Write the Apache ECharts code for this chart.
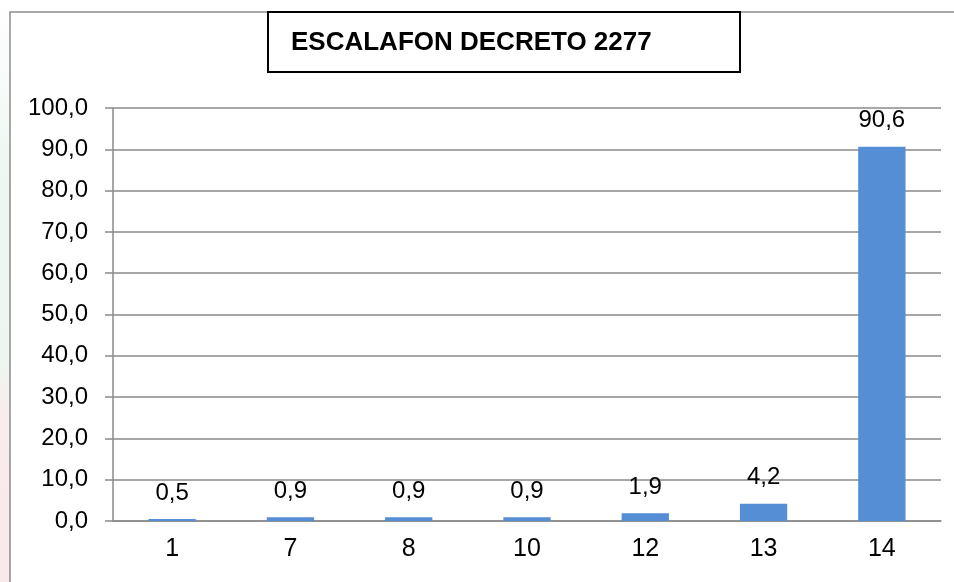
<!DOCTYPE html>
<html>
<head>
<meta charset="utf-8">
<style>
  html, body { margin: 0; padding: 0; background: #ffffff; }
  #chart { width: 954px; height: 582px; }
</style>
<script src="https://cdn.jsdelivr.net/npm/echarts@6/dist/echarts.min.js"></script>
</head>
<body>
<div id="chart"></div>
<script>
// Escalafón categories and their percentages
const categories = ['1', '7', '8', '10', '12', '13', '14'];
const percentages = [0.5, 0.9, 0.9, 0.9, 1.9, 4.2, 90.6];
const chartTitle = 'ESCALAFON DECRETO 2277';

const FONT = '"Liberation Sans", Arial, sans-serif';
const GRID_GRAY = '#8a8a8a';

// Decimal comma, one digit
const fmt = v => Number(v).toFixed(1).replace('.', ',');

const chart = echarts.init(document.getElementById('chart'), null, { renderer: 'canvas' });

chart.setOption({
  backgroundColor: '#ffffff',
  animation: false,
  textStyle: { fontFamily: FONT },
  grid: { left: 113, right: 13, top: 108, bottom: 61, containLabel: false },
  xAxis: {
    type: 'category',
    data: categories,
    axisLine: { show: true, lineStyle: { color: GRID_GRAY, width: 1.5 } },
    axisTick: { show: false },
    axisLabel: { color: '#000000', fontSize: 25, fontFamily: FONT, margin: 16 }
  },
  yAxis: {
    type: 'value',
    min: 0,
    max: 100,
    interval: 10,
    axisLine: { show: true, lineStyle: { color: GRID_GRAY, width: 1.5 } },
    axisTick: { show: true, inside: false, length: 8, lineStyle: { color: GRID_GRAY, width: 1.5 } },
    splitLine: { show: true, lineStyle: { color: GRID_GRAY, width: 1.5 } },
    axisLabel: { color: '#000000', fontSize: 24, fontFamily: FONT, margin: 25, formatter: fmt }
  },
  series: [{
    type: 'bar',
    data: percentages,
    barWidth: '40%',
    itemStyle: { color: '#558ED5' },
    label: {
      show: true,
      position: 'top',
      distance: 14,
      color: '#000000',
      fontSize: 24,
      fontFamily: FONT,
      formatter: p => fmt(p.value)
    }
  }],
  graphic: [
    // faint slide tint showing at the left margin
    {
      type: 'rect', z: -10, silent: true,
      shape: { x: 0, y: 0, width: 10, height: 582 },
      style: {
        fill: new echarts.graphic.LinearGradient(0, 0, 0, 1, [
          { offset: 0, color: '#ffffff' },
          { offset: 0.3, color: '#eef6f1' },
          { offset: 0.62, color: '#eef5f0' },
          { offset: 0.72, color: '#f8ecec' },
          { offset: 1, color: '#f9e9ea' }
        ])
      }
    },
    // chart frame
    {
      type: 'rect', silent: true,
      shape: { x: 10, y: 12, width: 960, height: 600 },
      style: { fill: 'transparent', stroke: '#8c8c8c', lineWidth: 1.5 }
    },
    // boxed title
    {
      type: 'rect', silent: true,
      shape: { x: 268, y: 12, width: 472, height: 60 },
      style: { fill: '#ffffff', stroke: '#000000', lineWidth: 2 }
    },
    {
      type: 'text', silent: true,
      left: 291, top: 30,
      style: {
        text: chartTitle,
        fill: '#000000',
        font: 'bold 26px ' + FONT
      }
    }
  ]
});
</script>
</body>
</html>
